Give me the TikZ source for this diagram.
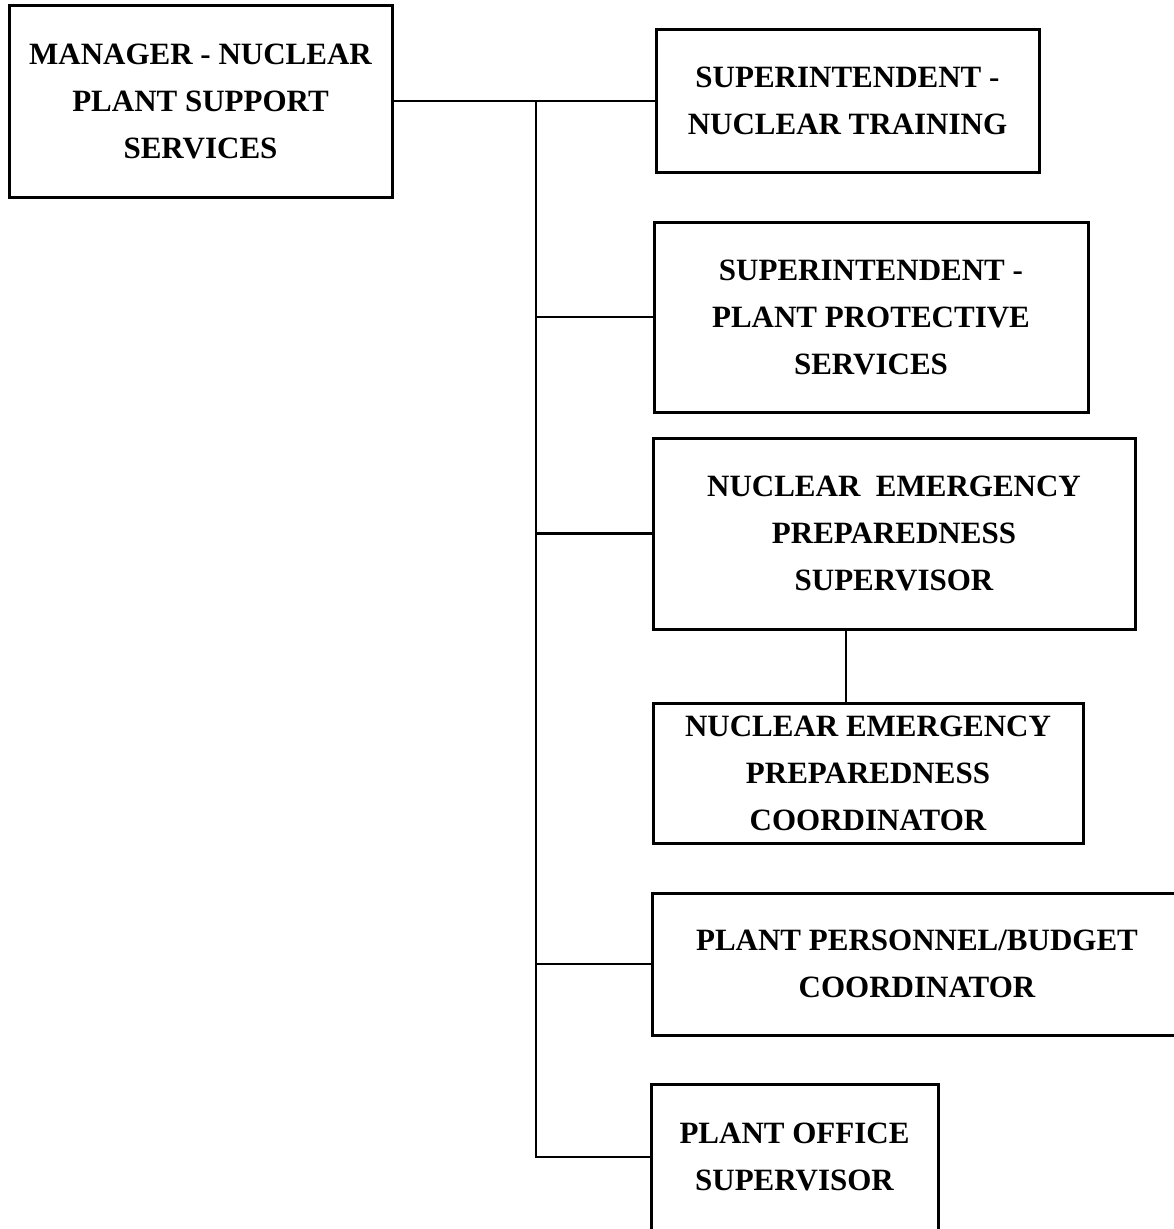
\documentclass[tikz,border=0pt]{standalone}
\usepackage{fontspec}
\setmainfont{Liberation Serif}
\usetikzlibrary{positioning,calc}

\begin{document}
\begin{tikzpicture}[
  x=1pt, y=-1pt,
  every node/.style={font=\fontsize{31}{47}\selectfont\bfseries},
  unit/.style={draw, line width=3pt, rectangle, align=center, inner sep=0pt},
  link/.style={line width=2.4pt}
]
  \useasboundingbox (0,0) rectangle (1174,1229);

  \node[unit, minimum width=383, minimum height=192] (mgr) at (200.5,101)
    {MANAGER - NUCLEAR\\ PLANT SUPPORT\\ SERVICES};

  \node[unit, minimum width=383, minimum height=143] (train) at (847.5,101)
    {SUPERINTENDENT -\\ NUCLEAR TRAINING};
  \node[unit, minimum width=434, minimum height=190] (protect) at (871,317)
    {SUPERINTENDENT -\\ PLANT PROTECTIVE\\ SERVICES};
  \node[unit, minimum width=482, minimum height=191] (nepsup) at (894,533.5)
    {NUCLEAR\ \ EMERGENCY\\ PREPAREDNESS\\ SUPERVISOR};
  \node[unit, minimum width=430, minimum height=140] (nepcoord) at (868,773)
    {NUCLEAR EMERGENCY\\ PREPAREDNESS\\ COORDINATOR};
  \node[unit, minimum width=530, minimum height=142] (budget) at (917,964)
    {PLANT PERSONNEL/BUDGET\\ COORDINATOR};
  \node[unit, minimum width=287, minimum height=146] (office) at (794.5,1157)
    {PLANT OFFICE\\ SUPERVISOR};

  % trunk
  \coordinate (trunk) at (536,101);
  \draw[link] (mgr.east) -- (train.west);
  \draw[link] (trunk) |- (office.west);
  \draw[link] (trunk |- protect.west) -- (protect.west);
  \draw[link] (trunk |- nepsup.west) -- (nepsup.west);
  \draw[link] (trunk |- budget.west) -- (budget.west);

  \draw[link] (nepsup.south -| {846,0}) -- (nepcoord.north -| {846,0});
\end{tikzpicture}
\end{document}
